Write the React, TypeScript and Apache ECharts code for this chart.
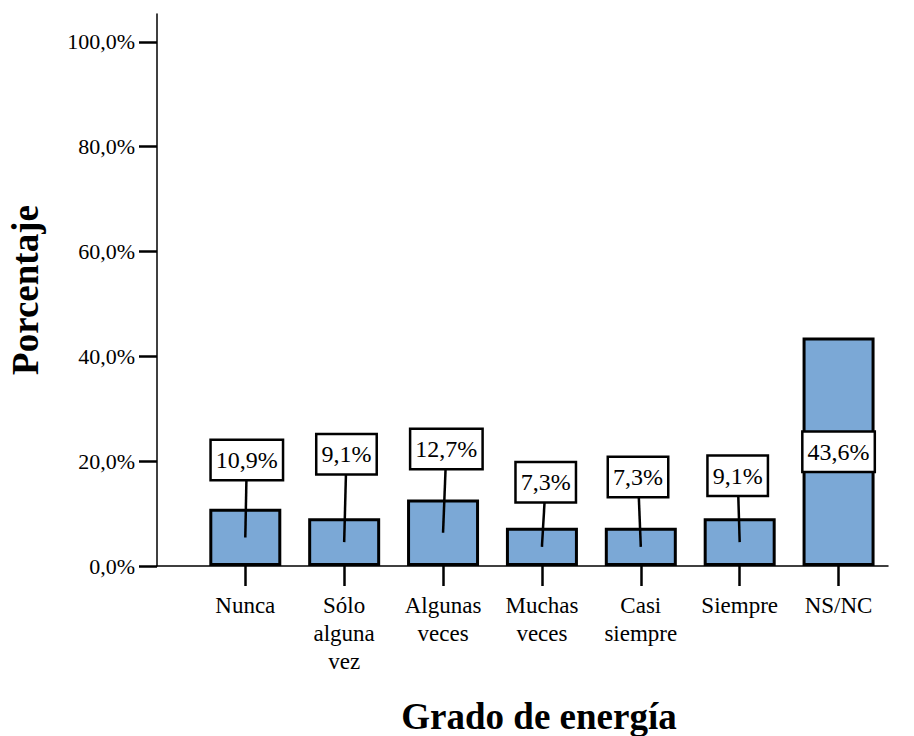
import React, { useEffect, useRef } from "react";
import * as echarts from "echarts";

const categories = [
  "Nunca",
  "Sólo\nalguna\nvez",
  "Algunas\nveces",
  "Muchas\nveces",
  "Casi\nsiempre",
  "Siempre",
  "NS/NC",
];
const percentages = [10.9, 9.1, 12.7, 7.3, 7.3, 9.1, 43.6];
const yTickValues = [0, 20, 40, 60, 80, 100];

// layout of the value-label boxes (level in % of the y scale, horizontal shift in px)
const labelBoxLevel = [20.2, 21.3, 22.3, 16.0, 17.0, 17.2, 21.8];
const labelBoxShift = [1.5, 2.3, 3.3, 3.8, -2.8, -2, 0];

const SERIF = '"Liberation Serif", "Times New Roman", serif';
const fmtPct = (v: number) => v.toFixed(1).replace(".", ",") + "%";

export default function App() {
  const ref = useRef<HTMLDivElement>(null);
  useEffect(() => {
    if (!ref.current) return;
    const chart = echarts.init(ref.current, null, { renderer: "svg" });
    const catIdx = categories.map((_, i) => i);
    chart.setOption({
      animation: false,
      backgroundColor: "#fff",
      grid: {
        left: 157,
        right: 26,
        top: 14,
        bottom: 170,
        containLabel: false,
        outerBoundsMode: "none",
      },
      xAxis: {
        type: "value",
        min: -0.893,
        max: 6.5,
        splitLine: { show: false },
        axisLine: { onZero: false, lineStyle: { color: "#000", width: 1.5 } },
        axisTick: {
          show: true,
          customValues: catIdx,
          length: 20,
          lineStyle: { color: "#000", width: 2.5 },
        },
        axisLabel: {
          customValues: catIdx,
          formatter: (v: number) => categories[Math.round(v)] ?? "",
          fontFamily: SERIF,
          fontSize: 23,
          lineHeight: 28,
          color: "#000",
          margin: 25,
        },
      },
      yAxis: {
        type: "value",
        min: 0,
        max: 105.3,
        splitLine: { show: false },
        name: "Porcentaje",
        nameLocation: "middle",
        nameRotate: 90,
        nameGap: 113,
        nameTextStyle: { fontFamily: SERIF, fontSize: 37, fontWeight: "bold", color: "#000" },
        axisLine: { show: true, onZero: false, lineStyle: { color: "#000", width: 1.5 } },
        axisTick: {
          show: true,
          customValues: yTickValues,
          length: 18,
          lineStyle: { color: "#000", width: 2.5 },
        },
        axisLabel: {
          customValues: yTickValues,
          formatter: (v: number) => fmtPct(v),
          fontFamily: SERIF,
          fontSize: 22,
          color: "#000",
          margin: 22,
        },
      },
      graphic: [
        {
          type: "text",
          x: 539,
          y: 716,
          style: {
            text: "Grado de energía",
            fontFamily: SERIF,
            fontSize: 37,
            fontWeight: "bold",
            fill: "#000",
            align: "center",
            verticalAlign: "middle",
          },
        },
      ],
      series: [
        {
          type: "bar",
          barWidth: 72,
          data: percentages.map((v, i) => [i, v]),
          itemStyle: { color: "#7ba8d6", borderColor: "#000", borderWidth: 3 },
          z: 2,
        },
        {
          type: "custom",
          z: 5,
          clip: false,
          data: percentages.map((v, i) => [i, v, labelBoxLevel[i], labelBoxShift[i]]),
          renderItem: (_params: any, api: any) => {
            const i = api.value(0);
            const v = api.value(1);
            const lvl = api.value(2);
            const dx = api.value(3);
            const mid = api.coord([i, v / 2]);
            const box = api.coord([i, lvl]);
            const bx = box[0] + dx;
            const by = box[1];
            return {
              type: "group",
              children: [
                {
                  type: "line",
                  shape: { x1: mid[0], y1: mid[1], x2: bx, y2: by },
                  style: { stroke: "#000", lineWidth: 2.5 },
                },
                {
                  type: "text",
                  x: bx,
                  y: by,
                  style: {
                    text: fmtPct(v),
                    fontFamily: SERIF,
                    fontSize: 24,
                    lineHeight: 28,
                    fill: "#000",
                    align: "center",
                    verticalAlign: "middle",
                    backgroundColor: "#fff",
                    borderColor: "#000",
                    borderWidth: 2.5,
                    padding: [5, 4, 5, 4],
                  },
                },
              ],
            };
          },
        },
      ],
    });
    return () => chart.dispose();
  }, []);
  return (
    <div
      ref={ref}
      style={{ position: "fixed", left: 0, top: 0, width: 914, height: 736 }}
    />
  );
}
